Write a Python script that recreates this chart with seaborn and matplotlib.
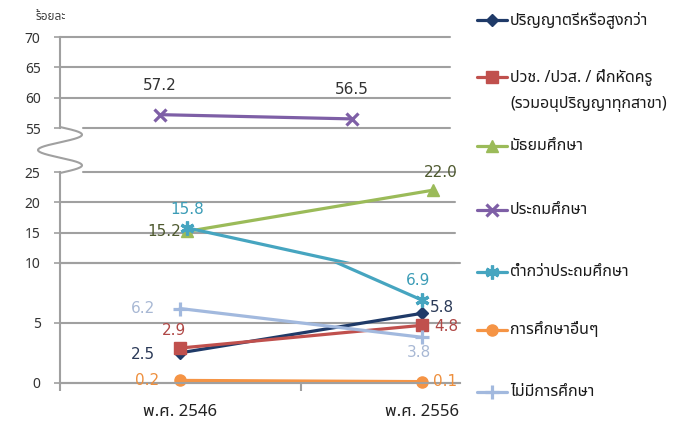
import numpy as np
import pandas as pd
import matplotlib
matplotlib.use("Agg")
import matplotlib.pyplot as plt
import seaborn as sns
from matplotlib import font_manager as fm
from matplotlib.lines import Line2D
from matplotlib.ft2font import FT2Font

# ---------------- data ----------------
categories = ["พ.ศ. 2546", "พ.ศ. 2556"]
series_names = [
    "ปริญญาตรีหรือสูงกว่า",
    "ปวช. /ปวส. / ฝึกหัดครู\n(รวมอนุปริญญาทุกสาขา)",
    "มัธยมศึกษา",
    "ประถมศึกษา",
    "ต่ำกว่าประถมศึกษา",
    "การศึกษาอื่นๆ",
    "ไม่มีการศึกษา",
]
bachelor = [2.5, 5.8]
vocational = [2.9, 4.8]
secondary = [15.2, 22.0]
primary = [57.2, 56.5]
below_primary = [15.8, 6.9]
other_edu = [0.2, 0.1]
no_edu = [6.2, 3.8]
series_values = [bachelor, vocational, secondary, primary, below_primary, other_edu, no_edu]
y_unit = "ร้อยละ"
top_ticks = [55, 60, 65, 70]
mid_ticks = [15, 20, 25]
low_ticks = [0, 5, 10]

# ---------------- styles ----------------
line_colors = ["#1F3A68", "#C0504D", "#9BBB59", "#7E5FA6", "#46A5C0", "#F59445", "#A2B9DE"]
label_colors = ["#2B3A58", "#B04846", "#4F5A30", "#333333", "#3B9CB6", "#EE8F3D", "#A8B8D4"]
markers = ["D", "s", "^", "x", (6, 2, 0), "o", "+"]
msizes = [6, 8.5, 9, 9, 10, 8, 10]
line_art = [False, False, False, True, True, False, True]
# label offsets (points) and alignment, per series per point
label_pos = [
    [((-18, -1), "right", "center"), ((6, 4), "left", "center")],
    [((-4, 13), "center", "center"), ((9, -1), "left", "center")],
    [((-4, 0), "right", "center"), ((6, 13), "center", "center")],
    [((0, 21), "center", "center"), ((0, 21), "center", "center")],
    [((0, 13), "center", "center"), ((-3, 14), "center", "center")],
    [((-15, 0), "right", "center"), ((8, 0), "left", "center")],
    [((-18, 0), "right", "center"), ((-2, -11), "center", "center")],
]

sns.set_theme(style="white")

def find_thai_font():
    prefs = ["Noto Sans Thai", "Noto Sans Thai UI", "Noto Serif Thai", "Sarabun", "Loma",
             "Garuda", "Tlwg Typo", "Norasi", "Kinnari", "Waree", "Umpush"]
    names = {f.name: f.fname for f in fm.fontManager.ttflist}
    for p in prefs:
        if p in names:
            return p
    for f in fm.fontManager.ttflist:
        try:
            cm = FT2Font(f.fname).get_charmap()
            if 0x0E01 in cm and 0x0E48 in cm:
                return f.name
        except Exception:
            pass
    return None

thai = find_thai_font()
fam = ([thai] if thai else []) + ["DejaVu Sans"]
plt.rcParams["font.family"] = fam

W, H = 689, 421
fig = plt.figure(figsize=(W / 100, H / 100), dpi=100)

def box(l, r, t, b):
    return [l / W, 1 - b / H, (r - l) / W, (b - t) / H]

# three panels of the broken axis (pixel layout)
ax_top = fig.add_axes(box(60, 450, 37, 128))
ax_mid = fig.add_axes(box(60, 455, 172, 263))
ax_low = fig.add_axes(box(60, 460, 263, 390))

grid_c = "#A0A0A0"
tick_c = "#333333"

# data
for i, (name, vals) in enumerate(zip(series_names, series_values)):
    df = pd.DataFrame({"cat": categories, "val": vals})
    for ax in (ax_top, ax_mid, ax_low):
        kw = dict(color=line_colors[i], marker=markers[i], markersize=msizes[i], linewidth=2.3,
                  markeredgecolor=line_colors[i], errorbar=None, ax=ax, legend=False)
        if line_art[i]:
            kw["markeredgewidth"] = 2.3
        else:
            kw["markerfacecolor"] = line_colors[i]
            kw["markeredgewidth"] = 1
        sns.lineplot(data=df, x="cat", y="val", **kw)

for ax in (ax_top, ax_mid, ax_low):
    for s in ("top", "right", "bottom"):
        ax.spines[s].set_visible(False)
    ax.spines["left"].set_color(grid_c)
    ax.spines["left"].set_linewidth(1.5)
    ax.set_facecolor("none")
    ax.tick_params(axis="y", which="both", left=True, length=4, width=1.2, color=grid_c,
                   labelsize=10, labelcolor=tick_c, pad=10)
    ax.set_xlabel("")
    ax.set_ylabel("")

ax_top.set_ylim(55, 70); ax_top.set_xlim(-0.52, 1.51)
ax_mid.set_ylim(10, 25); ax_mid.set_xlim(-0.516, 1.09)
ax_low.set_ylim(-0.6, 10); ax_low.set_xlim(-0.496, 1.157)

# gridlines
for ax, ticks in ((ax_top, top_ticks), (ax_mid, [10] + mid_ticks), (ax_low, low_ticks)):
    for t in ticks:
        xmin = 0.058 if (ax is ax_top and t == 55) or (ax is ax_mid and t == 25) else 0.0
        ax.axhline(t, xmin=xmin, color=grid_c, lw=1.5, zorder=0.5, clip_on=False)

ax_top.set_yticks(top_ticks)
ax_mid.set_yticks(mid_ticks)
ax_low.set_yticks(low_ticks)
ax_top.spines["left"].set_bounds(55, 70)
ax_mid.spines["left"].set_bounds(10, 25)
ax_low.spines["left"].set_bounds(0, 10)

for ax in (ax_top, ax_mid):
    ax.set_xticks([])
    ax.tick_params(axis="x", bottom=False, labelbottom=False)

# bottom x-axis
ax_low.spines["bottom"].set_visible(True)
ax_low.spines["bottom"].set_position(("data", 0))
ax_low.spines["bottom"].set_color(grid_c)
ax_low.spines["bottom"].set_linewidth(1.5)
ax_low.set_xticks(range(len(categories)))
ax_low.set_xticklabels(categories)
ax_low.set_xticks([-0.496, 0.5], minor=True)
ax_low.tick_params(axis="x", which="major", bottom=False, length=0, pad=15,
                   labelsize=12, labelcolor="#222222")
ax_low.tick_params(axis="x", which="minor", bottom=True, length=6, width=1.5,
                   color=grid_c, direction="out")

# data labels
for i, vals in enumerate(series_values):
    for j, v in enumerate(vals):
        (dx, dy), ha, va = label_pos[i][j]
        if v >= 55:
            ax = ax_top
        elif v > 10:
            ax = ax_mid
        else:
            ax = ax_low
        ax.annotate(f"{v:.1f}", xy=(j, v), xytext=(dx, dy), textcoords="offset points",
                    ha=ha, va=va, fontsize=11, color=label_colors[i], family=["DejaVu Sans"],
                    annotation_clip=False)

# y unit label
fig.text(36 / W, 1 - 16 / H, y_unit, fontsize=8.5, color="#404040", ha="left", va="center")

# squiggle break mark
t = np.linspace(0, 1, 200)
sx = 60 + 22 * np.sin(2 * np.pi * 1.5 * t)
sy = 127 + 46 * t
fig.add_artist(Line2D(sx / W, 1 - sy / H, transform=fig.transFigure, color=grid_c, lw=1.5))

# legend
leg_y = [20, 77, 146, 210, 272, 330, 392]
for i, name in enumerate(series_names):
    yy = 1 - leg_y[i] / H
    kw = dict(color=line_colors[i], lw=2.3, marker=markers[i], markersize=msizes[i],
              markeredgecolor=line_colors[i], markevery=[1], transform=fig.transFigure)
    if line_art[i]:
        kw["markeredgewidth"] = 2.3
    else:
        kw["markerfacecolor"] = line_colors[i]
    fig.add_artist(Line2D([477 / W, 492 / W, 507 / W], [yy, yy, yy], **kw))
    lines = name.split("\n")
    for k, ln in enumerate(lines):
        fig.text(510 / W, 1 - (leg_y[i] + 27 * k) / H, ln, fontsize=11.5,
                 color="#1a1a1a", ha="left", va="center")

fig.savefig("out.png", dpi=100)
